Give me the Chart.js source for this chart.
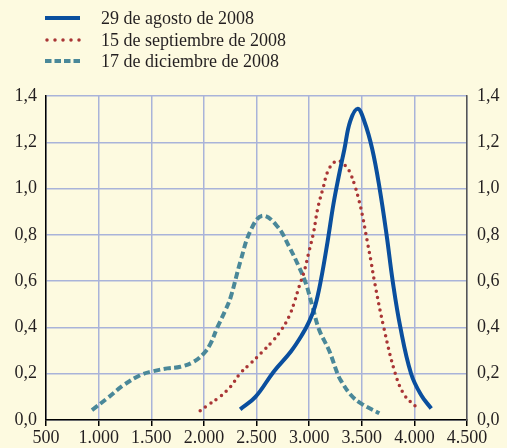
<!DOCTYPE html>
<html>
<head>
<meta charset="utf-8">
<script src="https://cdn.jsdelivr.net/npm/chart.js@4"></script>
<style>
  html, body { margin: 0; padding: 0; background: #fdfae0; }
  canvas { display: block; }
</style>
</head>
<body>
<canvas id="myChart" width="507" height="448"></canvas>
<script>
// series labels
const labels = ["29 de agosto de 2008", "15 de septiembre de 2008", "17 de diciembre de 2008"];

// 29 de agosto
const agostoX = [2345, 2490, 2665, 2825, 2935, 3000, 3055, 3110, 3175, 3230, 3280, 3335, 3390, 3461, 3525, 3600, 3670, 3736, 3794, 3867, 3969, 4064, 4160];
const agostoY = [0.046, 0.10, 0.21, 0.295, 0.37, 0.425, 0.49, 0.60, 0.77, 0.93, 1.05, 1.17, 1.29, 1.345, 1.29, 1.17, 1.00, 0.80, 0.60, 0.40, 0.20, 0.108, 0.05];

// 15 de septiembre
const septX = [1965, 2025, 2150, 2254, 2343, 2445, 2546, 2651, 2737, 2809, 2857, 2905, 2952, 3000, 3042, 3080, 3128, 3190, 3270, 3350, 3388, 3438, 3476, 3508, 3549, 3588, 3620, 3709, 3819, 3905, 4016];
const septY = [0.04, 0.06, 0.10, 0.144, 0.20, 0.245, 0.29, 0.34, 0.39, 0.447, 0.505, 0.577, 0.64, 0.73, 0.81, 0.91, 0.995, 1.086, 1.12, 1.096, 1.07, 1.007, 0.945, 0.88, 0.78, 0.685, 0.60, 0.40, 0.20, 0.108, 0.057];

// 17 de diciembre
const dicX = [937, 1080, 1238, 1397, 1500, 1652, 1778, 1905, 2000, 2063, 2128, 2200, 2254, 2350, 2445, 2556, 2699, 2809, 2905, 2969, 3032, 3095, 3190, 3270, 3302, 3397, 3492, 3667];
const dicY = [0.043, 0.093, 0.151, 0.194, 0.209, 0.223, 0.23, 0.252, 0.288, 0.33, 0.40, 0.47, 0.53, 0.69, 0.82, 0.883, 0.836, 0.75, 0.66, 0.59, 0.49, 0.39, 0.30, 0.20, 0.17, 0.108, 0.072, 0.029];

const xMin = 500, xMax = 4500, xStep = 500;
const yMin = 0, yMax = 1.4, yStep = 0.2;

const FONT = "'Liberation Serif', 'Times New Roman', serif";
const TEXT = "#231f20";
const GRID = "#a9b3d9";

function toPoints(xs, ys) {
  return xs.map((x, i) => ({ x: x, y: ys[i] }));
}

function fmtX(v) {
  if (v < 1000) return String(v);
  return Math.floor(v / 1000) + "." + String(v % 1000).padStart(3, "0");
}

function fmtY(v) {
  return v.toFixed(1).replace(".", ",");
}

// legend drawn by hand, stacked at top left
const legendPlugin = {
  id: "stackLegend",
  afterDraw(chart) {
    const ctx = chart.ctx;
    const rows = [18, 40, 61];
    chart.data.datasets.forEach((ds, i) => {
      const y = rows[i];
      ctx.save();
      ctx.strokeStyle = ds.borderColor;
      ctx.lineWidth = ds.borderWidth;
      ctx.lineCap = ds.borderCapStyle || "butt";
      ctx.beginPath();
      if (i === 1) {
        ctx.setLineDash([0, 8]);
        ctx.moveTo(47, y);
        ctx.lineTo(81, y);
      } else if (i === 2) {
        ctx.setLineDash([6.5, 3]);
        ctx.moveTo(45, y);
        ctx.lineTo(80, y);
      } else {
        ctx.moveTo(45, y);
        ctx.lineTo(80, y);
      }
      ctx.stroke();
      ctx.restore();

      ctx.save();
      ctx.fillStyle = TEXT;
      ctx.font = "18px " + FONT;
      ctx.textBaseline = "middle";
      ctx.fillText(ds.label, 101, y + 1);
      ctx.restore();
    });
  }
};

const ctx = document.getElementById("myChart").getContext("2d");

new Chart(ctx, {
  type: "line",
  data: {
    datasets: [
      {
        label: labels[0],
        data: toPoints(agostoX, agostoY),
        borderColor: "#0a4f9e",
        borderWidth: 4,
        pointRadius: 0,
        tension: 0.4,
        fill: false
      },
      {
        label: labels[1],
        data: toPoints(septX, septY),
        borderColor: "#a93535",
        borderWidth: 3.5,
        borderDash: [0, 6.5],
        borderCapStyle: "round",
        pointRadius: 0,
        tension: 0.4,
        fill: false
      },
      {
        label: labels[2],
        data: toPoints(dicX, dicY),
        borderColor: "#4a8899",
        borderWidth: 4,
        borderDash: [7, 3.5],
        pointRadius: 0,
        tension: 0.4,
        fill: false
      }
    ]
  },
  options: {
    responsive: false,
    animation: false,
    layout: { padding: { top: 96, left: 0, right: 0, bottom: 0 } },
    plugins: {
      legend: { display: false },
      tooltip: { enabled: false }
    },
    scales: {
      x: {
        type: "linear",
        position: "bottom",
        min: xMin,
        max: xMax,
        afterFit: s => { s.height = 28; },
        ticks: {
          stepSize: xStep,
          callback: v => fmtX(v),
          font: { family: FONT, size: 18 },
          color: TEXT,
          padding: 1,
          maxRotation: 0,
          autoSkip: false
        },
        grid: { color: GRID, lineWidth: 1.5, tickColor: "#000", tickLength: 6 },
        border: { color: "#000", width: 1.5 }
      },
      y: {
        position: "left",
        min: yMin,
        max: yMax,
        afterFit: s => { s.width = 46; },
        ticks: {
          stepSize: yStep,
          callback: v => fmtY(v),
          font: { family: FONT, size: 18 },
          color: TEXT,
          padding: 9
        },
        grid: { color: GRID, lineWidth: 1.5, drawTicks: false },
        border: { color: "#000", width: 1.5 }
      },
      y2: {
        position: "right",
        min: yMin,
        max: yMax,
        afterFit: s => { s.width = 40; },
        ticks: {
          stepSize: yStep,
          callback: v => fmtY(v),
          font: { family: FONT, size: 18 },
          color: TEXT,
          padding: 10
        },
        grid: { drawOnChartArea: false, drawTicks: false },
        border: { color: "#555", width: 1.5 }
      }
    }
  },
  plugins: [legendPlugin]
});
</script>
</body>
</html>
